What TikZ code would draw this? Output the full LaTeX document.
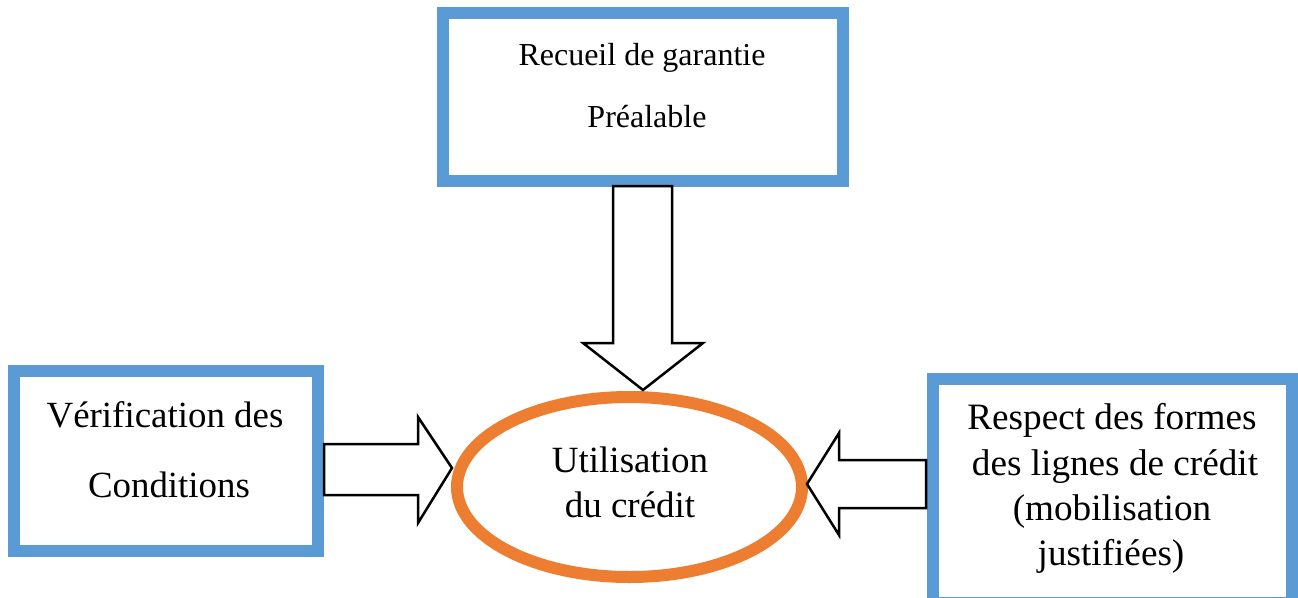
\documentclass[tikz,border=0pt]{standalone}
\usepackage{fontspec}
\setmainfont{Liberation Serif}
\usetikzlibrary{shapes.geometric}
\definecolor{boxblue}{HTML}{5B9BD5}
\definecolor{ellorange}{HTML}{ED7D31}
\tikzset{
  bluebox/.style={draw=boxblue, line width=12pt, fill=white},
  fatarrow/.style={draw=black, line width=2.5pt, fill=white, line join=miter},
  txt/.style={anchor=base, inner sep=0pt, font=\fontsize{#1}{#1}\selectfont},
}
\begin{document}
\begin{tikzpicture}[x=1pt,y=-1pt]
\clip (0,0) rectangle (1298,597);
\fill[white] (0,0) rectangle (1298,597);
% boxes
\draw[bluebox] (442.5,13) rectangle (842.5,181);
\draw[bluebox] (14,371) rectangle (318,551);
\draw[bluebox] (933,379) rectangle (1292,603);
% ellipse
\node (util) [ellipse, draw=ellorange, line width=12pt, fill=white, minimum width=345pt, minimum height=180pt, inner sep=0pt] at (629.5,487) {};
% down arrow
\draw[fatarrow] (613,186) -- (672,186) -- (672,343) -- (703,343) -- (643,390) -- (583,343) -- (613,343) -- cycle;
\coordinate (tipdown) at (643,390);
% right-pointing arrow
\draw[fatarrow] (324,444) -- (418,444) -- (418,417) -- (452,468) -- (418,523) -- (418,495) -- (324,495) -- cycle;
\coordinate (tipright) at (452,468);
% left-pointing arrow
\draw[fatarrow] (926,460) -- (839,460) -- (839,433) -- (807,484) -- (839,535) -- (839,508) -- (926,508) -- cycle;
\coordinate (tipleft) at (807,484);
% texts
\node (t1) [txt=32] at (642,65) {Recueil de garantie};
\node (t2) [txt=32] at (647,127) {Préalable};
\node (l1) [txt=36.9] at (165,427) {Vérification des};
\node (l2) [txt=36.9] at (169,497) {Conditions};
\node (u1) [txt=37] at (630,472) {Utilisation};
\node (u2) [txt=37] at (630,517) {du crédit};
\node (r1) [txt=37.2] at (1112,429) {Respect des formes};
\node (r2) [txt=37.2] at (1115,475) {des lignes de crédit};
\node (r3) [txt=37.2] at (1112,520) {(mobilisation};
\node (r4) [txt=37.2] at (1111,565) {justifiées)};
\end{tikzpicture}
\end{document}
